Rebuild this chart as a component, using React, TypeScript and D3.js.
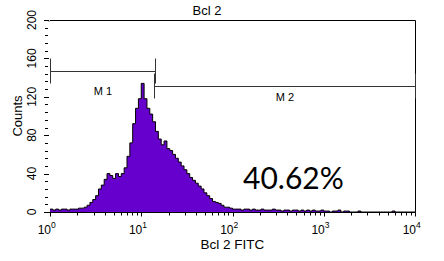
import React, { useEffect, useRef } from "react";
import * as d3 from "d3";

// histogram channel counts, 128 log-spaced channels over 10^0..10^4
const counts = [
  3, 2, 3, 2, 3, 3, 2, 3, 3, 3, 4, 4, 5, 7, 10, 13, 17, 24, 28, 34, 40, 38, 35,
  40, 37, 40, 46, 58, 72, 92, 108, 118, 134, 118, 108, 102, 94, 84, 76, 70, 74,
  66, 64, 60, 56, 52, 48, 44, 40, 36, 33, 30, 27, 24, 20, 17, 14, 11, 10, 9, 7,
  5, 5, 4, 3, 3, 3, 2, 3, 3, 2, 3, 2, 2, 3, 2, 2, 2, 3, 2, 2, 1, 2, 2, 1, 2, 2,
  1, 2, 1, 2, 1, 2, 1, 1, 2, 1, 1, 0, 1, 1, 2, 0, 1, 1, 0, 0, 0, 1, 0, 0, 0, 0,
  0, 0, 0, 0, 0, 0, 0, 1, 0, 0, 0, 0, 0, 0, 0,
];
const decades = [1, 10, 100, 1000, 10000];
const yTicks = [0, 40, 80, 120, 160, 200];
// markers: [label, from, to]
const markers: [string, number, number][] = [
  ["M 1", 1, 14.1],
  ["M 2", 13.8, 10000],
];
const percentLabel = "40.62%";

export default function App() {
  const svgRef = useRef<SVGSVGElement>(null);
  const width = 444;
  const height = 261;

  useEffect(() => {
    const svg = d3.select(svgRef.current);
    svg.selectAll("*").remove();

    const marginLeft = 50;
    const marginRight = 29;
    const marginTop = 20;
    const marginBottom = 49;

    const x = d3
      .scaleLog()
      .domain([1, 10000])
      .range([marginLeft, width - marginRight]);
    const y = d3
      .scaleLinear()
      .domain([0, 200])
      .range([height - marginBottom, marginTop]);

    const n = counts.length;
    const pts: [number, number][] = counts.map((c, i) => [
      Math.pow(10, (4 * i) / n),
      c,
    ]);
    pts.push([10000, counts[n - 1]]);

    const area = d3
      .area<[number, number]>()
      .x((d) => x(d[0]))
      .y0(y(0))
      .y1((d) => y(d[1]))
      .curve(d3.curveStepAfter);
    const line = d3
      .line<[number, number]>()
      .x((d) => x(d[0]))
      .y((d) => y(d[1]))
      .curve(d3.curveStepAfter);

    svg.append("path").attr("d", area(pts)).attr("fill", "#6600cc");
    svg
      .append("path")
      .attr("d", line(pts))
      .attr("fill", "none")
      .attr("stroke", "#000")
      .attr("stroke-width", 1);

    // frame: top, right, bottom
    const x0 = x(1) - 1;
    const x1 = Math.round(x(10000)) + 0.5;
    const yTop = Math.round(y(200)) + 0.5;
    const yBot = Math.round(y(0)) + 0.5;
    svg
      .append("path")
      .attr("d", `M${x0},${yTop + 1}L${x0 + 1},${yTop}H${x1}V${yBot}H${x0}`)
      .attr("fill", "none")
      .attr("stroke", "#000");

    // y ticks every 8 counts
    const g = svg.append("g").attr("font-family", "Liberation Sans, Arial, sans-serif");
    d3.range(0, 201, 8).forEach((v) => {
      const yy = Math.round(y(v)) + 0.5;
      const major = v % 40 === 0;
      g.append("line")
        .attr("x1", major ? 44 : 45)
        .attr("x2", major ? 49 : 48)
        .attr("y1", yy)
        .attr("y2", yy)
        .attr("stroke", "#000");
    });
    yTicks.forEach((v) => {
      g.append("text")
        .attr("transform", `translate(36,${y(v)}) rotate(-90)`)
        .attr("text-anchor", "middle")
        .attr("font-size", 12)
        .text(v);
    });
    g.append("text")
      .attr("transform", `translate(22,${(y(0) + y(200)) / 2}) rotate(-90)`)
      .attr("text-anchor", "middle")
      .attr("font-size", 13)
      .text("Counts");

    // x ticks: decades plus 2..9
    decades.forEach((d, i) => {
      const subs = i < decades.length - 1 ? d3.range(1, 10).map((k) => k * d) : [d];
      subs.forEach((v, k) => {
        const xx = Math.round(x(v)) + 0.5;
        g.append("line")
          .attr("x1", xx)
          .attr("x2", xx)
          .attr("y1", yBot)
          .attr("y2", yBot + (k === 0 ? 4 : 3))
          .attr("stroke", "#000");
      });
      g.append("text")
        .attr("x", x(d) + 1)
        .attr("y", 234)
        .attr("text-anchor", "end")
        .attr("font-size", 12)
        .text("10");
      g.append("text")
        .attr("x", x(d) + 1)
        .attr("y", 228)
        .attr("font-size", 8.5)
        .text(i);
    });
    g.append("text")
      .attr("x", x(100))
      .attr("y", 249)
      .attr("text-anchor", "middle")
      .attr("font-size", 13.5)
      .text("Bcl 2 FITC");
    g.append("text")
      .attr("x", 207)
      .attr("y", 15)
      .attr("text-anchor", "middle")
      .attr("font-size", 13)
      .text("Bcl 2");

    // markers
    const mY = [71.5, 86.5];
    const labelY = [95, 101];
    markers.forEach(([label, a, b], i) => {
      const xa = Math.round(x(a)) + 0.5;
      const xb = Math.round(x(b)) + 0.5;
      const ym = mY[i];
      svg
        .append("path")
        .attr("d", `M${xa},${ym - 13}V${ym + 12}M${xa},${ym}H${xb}M${xb},${ym - 13}V${ym + 12}`)
        .attr("fill", "none")
        .attr("stroke", "#333");
      g.append("text")
        .attr("x", (xa + xb) / 2)
        .attr("y", labelY[i])
        .attr("text-anchor", "middle")
        .attr("font-size", 11)
        .text(label);
    });

    svg
      .append("text")
      .attr("x", 243)
      .attr("y", 189)
      .attr("font-family", "Lato, sans-serif")
      .attr("font-size", 30)
      .text(percentLabel);
  }, []);

  return (
    <svg
      ref={svgRef}
      width={width}
      height={height}
      style={{ position: "absolute", left: 0, top: 0, background: "#fff" }}
    />
  );
}
